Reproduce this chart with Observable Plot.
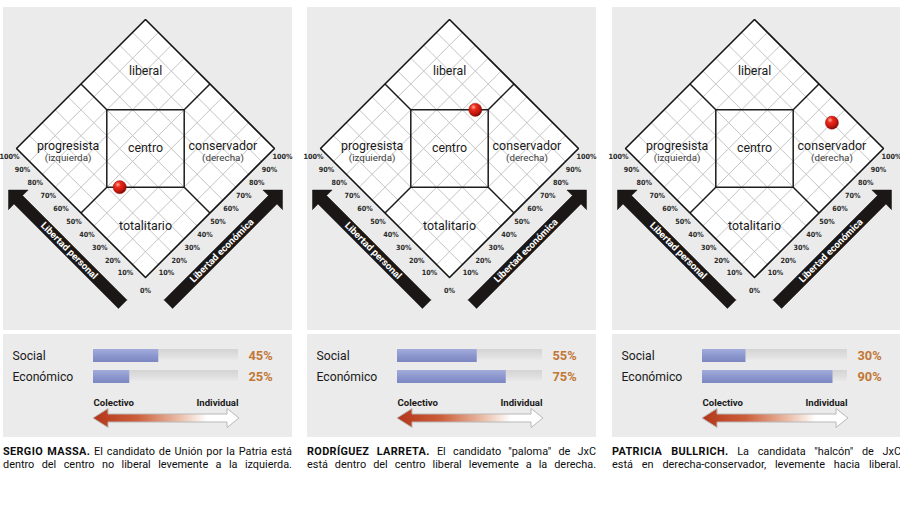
<!DOCTYPE html>
<html><head><meta charset="utf-8">
<script src="https://cdn.jsdelivr.net/npm/d3@7"></script>
<script src="https://cdn.jsdelivr.net/npm/@observablehq/plot@0.6"></script>
<style>
html,body{margin:0;padding:0;background:#fff;}
#wrap{position:relative;width:900px;height:505px;overflow:hidden;font-family:Roboto,sans-serif;}
.panel{position:absolute;top:0;width:289px;height:505px;}
.top{position:absolute;top:7px;left:0;}
.bars{position:absolute;top:334px;left:0;}
.cap{position:absolute;top:446px;left:0;width:289px;font-size:10.9px;line-height:12.5px;color:#0d0d0d;}
.cap div{text-align:justify;text-align-last:justify;white-space:nowrap;}
.cap b{letter-spacing:0.35px;}
svg{display:block;}
</style>
</head><body>
<div id="wrap"></div>
<script>
// ---- data ----
const candidateNames = ["SERGIO MASSA.", "RODRÍGUEZ LARRETA.", "PATRICIA BULLRICH."];
const captionLine1 = [
  " El candidato de Unión por la Patria está",
  " El candidato \"paloma\" de JxC",
  " La candidata \"halcón\" de JxC"
];
const captionLine2 = [
  "dentro del centro no liberal levemente a la izquierda.",
  "está dentro del centro liberal levemente a la derecha.",
  "está en derecha-conservador, levemente hacia liberal."
];
const socialValues = [45, 55, 30];     // Libertad personal
const economicValues = [25, 75, 90];   // Libertad económica
const barCategories = ["Social", "Económico"];
const tickValues = [0, 10, 20, 30, 40, 50, 60, 70, 80, 90, 100];
const regionNames = ["liberal", "progresista", "centro", "conservador", "totalitario"];
const regionAnchors = [[80, 80], [21, 81], [50, 50], [81, 21], [20, 20]]; // [económica, personal]
const regionSubNames = ["(izquierda)", "(derecha)"];
const regionSubAnchors = [[16.5, 76.5], [76.5, 16.5]];
const axisNames = ["Libertad personal", "Libertad económica"];
const scaleEnds = ["Colectivo", "Individual"];

// ---- layout ----
const W = 289, H1 = 323, H2 = 103;
const K = 1.29, CX = 142, BY = 270;
const panelLefts = [3, 307, 612];
const wrap = document.getElementById("wrap");
const condensed = "'DejaVu Sans Condensed', 'Liberation Sans Narrow', sans-serif";

const X = d => d.e - d.p, Y = d => d.e + d.p;

function diamondPlot(i) {
  const E = economicValues[i], P = socialValues[i];
  const outline = [[0,0],[100,0],[100,100],[0,100],[0,0]].map(([e,p]) => ({e,p}));
  const inner = tickValues.slice(1, -1);
  const grid = [];
  for (const v of inner) {
    grid.push({e1: v, p1: 0, e2: v, p2: 100});
    grid.push({e1: 0, p1: v, e2: 100, p2: v});
  }
  const c = 50, h = 30;
  const centro = [[c, c+h],[c+h, c],[c, c-h],[c-h, c],[c, c+h]].map(([e,p]) => ({e,p}));
  const spokes = [
    {e1: c, p1: 100, e2: c, p2: c+h},
    {e1: 100, p1: c, e2: c+h, p2: c},
    {e1: c, p1: 0, e2: c, p2: c-h},
    {e1: 0, p1: c, e2: c-h, p2: c}
  ];
  const regions = regionNames.map((name, j) => ({name, e: regionAnchors[j][0], p: regionAnchors[j][1]}));
  const subs = regionSubNames.map((name, j) => ({name, e: regionSubAnchors[j][0], p: regionSubAnchors[j][1]}));
  const leftTicks = tickValues.filter(v => v > 0).map(v => ({e: 0, p: v, t: v + "%"}));
  const rightTicks = tickValues.filter(v => v > 0).map(v => ({e: v, p: 0, t: v + "%"}));
  const zeroTick = [{e: 0, p: 0, t: "0%"}];

  // big arrows along the two lower edges (t: along edge, d: outward offset)
  const t0 = -1.5, t1 = 87, d0 = 19.2, w = 3.3, hw = 7.6, hl = 7.6;
  const shape = [[t0, d0-w],[t1-hl, d0-w],[t1-hl, d0-hw],[t1, d0],[t1-hl, d0+hw],[t1-hl, d0+w],[t0, d0+w],[t0, d0-w]];
  const arrows = [];
  shape.forEach(([t, d]) => arrows.push({id: 0, x: -t - d, y: t - d}));
  shape.forEach(([t, d]) => arrows.push({id: 1, x: t + d, y: t - d}));
  const arrowText = [
    {t: axisNames[0], x: -40 - d0, y: 40 - d0, r: 45},
    {t: axisNames[1], x: 40 + d0, y: 40 - d0, r: -45}
  ];

  const defs = () => {
    const g = d3.create("svg:defs");
    const rg = g.append("radialGradient").attr("id", "ball" + i).attr("cx", "36%").attr("cy", "30%").attr("r", "70%");
    rg.append("stop").attr("offset", "0%").attr("stop-color", "#ffb0a0");
    rg.append("stop").attr("offset", "30%").attr("stop-color", "#ec2a1c");
    rg.append("stop").attr("offset", "75%").attr("stop-color", "#c0160c");
    rg.append("stop").attr("offset", "100%").attr("stop-color", "#7e0904");
    return g.node();
  };

  return Plot.plot({
    width: W, height: H1, margin: 0,
    style: {background: "#ebebeb", overflow: "visible"},
    x: {domain: [-CX / K, (W - CX) / K], range: [0, W], axis: null},
    y: {domain: [(BY - H1) / K, BY / K], range: [H1, 0], axis: null},
    marks: [
      defs,
      Plot.line(outline, {x: X, y: Y, fill: "#ffffff", stroke: null}),
      Plot.link(grid, {x1: d => d.e1 - d.p1, y1: d => d.e1 + d.p1, x2: d => d.e2 - d.p2, y2: d => d.e2 + d.p2, stroke: "#c4c4c4", strokeWidth: 1}),
      Plot.link(spokes, {x1: d => d.e1 - d.p1, y1: d => d.e1 + d.p1, x2: d => d.e2 - d.p2, y2: d => d.e2 + d.p2, stroke: "#1c1c1c", strokeWidth: 1.5}),
      Plot.line(centro, {x: X, y: Y, stroke: "#1c1c1c", strokeWidth: 1.5, strokeLinejoin: "miter"}),
      Plot.line(outline, {x: X, y: Y, stroke: "#151515", strokeWidth: 1.6, strokeLinejoin: "miter"}),
      Plot.text(regions, {x: X, y: Y, text: "name", fontSize: 12.4, fill: "#1a1a1a", fontFamily: "Roboto"}),
      Plot.text(subs, {x: X, y: Y, text: "name", fontSize: 9.8, fill: "#3a3a3a", fontFamily: "Roboto"}),
      Plot.text(leftTicks, {x: X, y: Y, text: "t", dx: -7, dy: 8.5, fontSize: 7.2, fontWeight: "bold", fill: "#2a2a2a", fontFamily: condensed}),
      Plot.text(rightTicks, {x: X, y: Y, text: "t", dx: 8, dy: 8.5, fontSize: 7.2, fontWeight: "bold", fill: "#2a2a2a", fontFamily: condensed}),
      Plot.text(zeroTick, {x: X, y: Y, text: "t", dy: 13, fontSize: 7.2, fontWeight: "bold", fill: "#2a2a2a", fontFamily: condensed}),
      Plot.line(arrows, {x: "x", y: "y", z: "id", fill: "#1b1716", stroke: "#1b1716", strokeWidth: 0.5, strokeLinejoin: "miter"}),
      Plot.text(arrowText, {x: "x", y: "y", text: "t", rotate: "r", fill: "#fff", fontWeight: "bold", fontSize: 9.6, fontFamily: "Roboto"}),
      Plot.dot([{e: E, p: P}], {x: X, y: Y, r: 6.6, fill: `url(#ball${i})`, stroke: "#860b05", strokeWidth: 0.4})
    ]
  });
}

function barPlot(i) {
  const rows = barCategories.map((cat, j) => ({cat, value: j === 0 ? socialValues[i] : economicValues[i]}));
  const defs = () => {
    const g = d3.create("svg:defs");
    const tr = g.append("linearGradient").attr("id", "track" + i).attr("x1", 0).attr("y1", 0).attr("x2", 0).attr("y2", 1);
    tr.append("stop").attr("offset", "0%").attr("stop-color", "#d4d4d4");
    tr.append("stop").attr("offset", "55%").attr("stop-color", "#e0e0e0");
    tr.append("stop").attr("offset", "100%").attr("stop-color", "#eeeeee");
    const bl = g.append("linearGradient").attr("id", "blue" + i).attr("x1", 0).attr("y1", 0).attr("x2", 0).attr("y2", 1);
    bl.append("stop").attr("offset", "0%").attr("stop-color", "#a3acda");
    bl.append("stop").attr("offset", "50%").attr("stop-color", "#8c97cf");
    bl.append("stop").attr("offset", "100%").attr("stop-color", "#7c87c2");
    const ar = g.append("linearGradient").attr("id", "arr" + i).attr("x1", 0).attr("y1", 0).attr("x2", 1).attr("y2", 0);
    ar.append("stop").attr("offset", "0%").attr("stop-color", "#b3361a");
    ar.append("stop").attr("offset", "30%").attr("stop-color", "#cc5f3a");
    ar.append("stop").attr("offset", "58%").attr("stop-color", "#e9baa4");
    ar.append("stop").attr("offset", "78%").attr("stop-color", "#ffffff");
    ar.append("stop").attr("offset", "100%").attr("stop-color", "#ffffff");
    return g.node();
  };
  const doubleArrow = (index, scales) => {
    const x0 = scales.x(0), x1 = scales.x(100) + 1, yc = 84, hl = 15, hr = 12, hh = 9.5, sh = 4;
    const p = `M${x0},${yc}L${x0+hl},${yc-hh}L${x0+hl},${yc-sh}L${x1-hr},${yc-sh}L${x1-hr},${yc-hh}L${x1},${yc}L${x1-hr},${yc+hh}L${x1-hr},${yc+sh}L${x0+hl},${yc+sh}L${x0+hl},${yc+hh}Z`;
    const g = d3.create("svg:g");
    g.append("path").attr("d", p).attr("fill", `url(#arr${i})`).attr("stroke", "#b8b8b8").attr("stroke-width", 1).attr("stroke-linejoin", "miter");
    return g.node();
  };
  return Plot.plot({
    width: W, height: H2, margin: 0,
    style: {background: "#ebebeb", overflow: "visible"},
    x: {domain: [0, 100], range: [90, 235], axis: null},
    y: {type: "band", domain: barCategories, range: [14, 49.5], paddingInner: 0.386, paddingOuter: 0, axis: null},
    marks: [
      defs,
      Plot.barX(rows, {x1: 0, x2: 100, y: "cat", fill: `url(#track${i})`}),
      Plot.barX(rows, {x1: 0, x2: "value", y: "cat", fill: `url(#blue${i})`}),
      Plot.text(rows, {y: "cat", text: "cat", frameAnchor: "left", dx: 9, textAnchor: "start", fontSize: 12.2, fill: "#1a1a1a", fontFamily: "Roboto"}),
      Plot.text(rows, {x: 100, y: "cat", text: d => d.value + "%", dx: 10, textAnchor: "start", fontSize: 12.8, fontWeight: "bold", fill: "#c27734", fontFamily: "Roboto"}),
      Plot.text([scaleEnds[0]], {x: 0, text: d => d, frameAnchor: "top", dy: 65, textAnchor: "start", fontSize: 9.6, fontWeight: "bold", fill: "#1a1a1a", fontFamily: "Roboto"}),
      Plot.text([scaleEnds[1]], {x: 100, text: d => d, frameAnchor: "top", dy: 65, textAnchor: "end", fontSize: 9.6, fontWeight: "bold", fill: "#1a1a1a", fontFamily: "Roboto"}),
      doubleArrow
    ]
  });
}

candidateNames.forEach((name, i) => {
  const panel = document.createElement("div");
  panel.className = "panel";
  panel.style.left = panelLefts[i] + "px";
  const top = document.createElement("div"); top.className = "top"; top.appendChild(diamondPlot(i));
  const bars = document.createElement("div"); bars.className = "bars"; bars.appendChild(barPlot(i));
  const cap = document.createElement("div"); cap.className = "cap";
  const l1 = document.createElement("div");
  const b = document.createElement("b"); b.textContent = name; l1.appendChild(b);
  l1.appendChild(document.createTextNode(captionLine1[i]));
  const l2 = document.createElement("div"); l2.textContent = captionLine2[i];
  cap.appendChild(l1); cap.appendChild(l2);
  panel.appendChild(top); panel.appendChild(bars); panel.appendChild(cap);
  wrap.appendChild(panel);
});
</script>
</body></html>
